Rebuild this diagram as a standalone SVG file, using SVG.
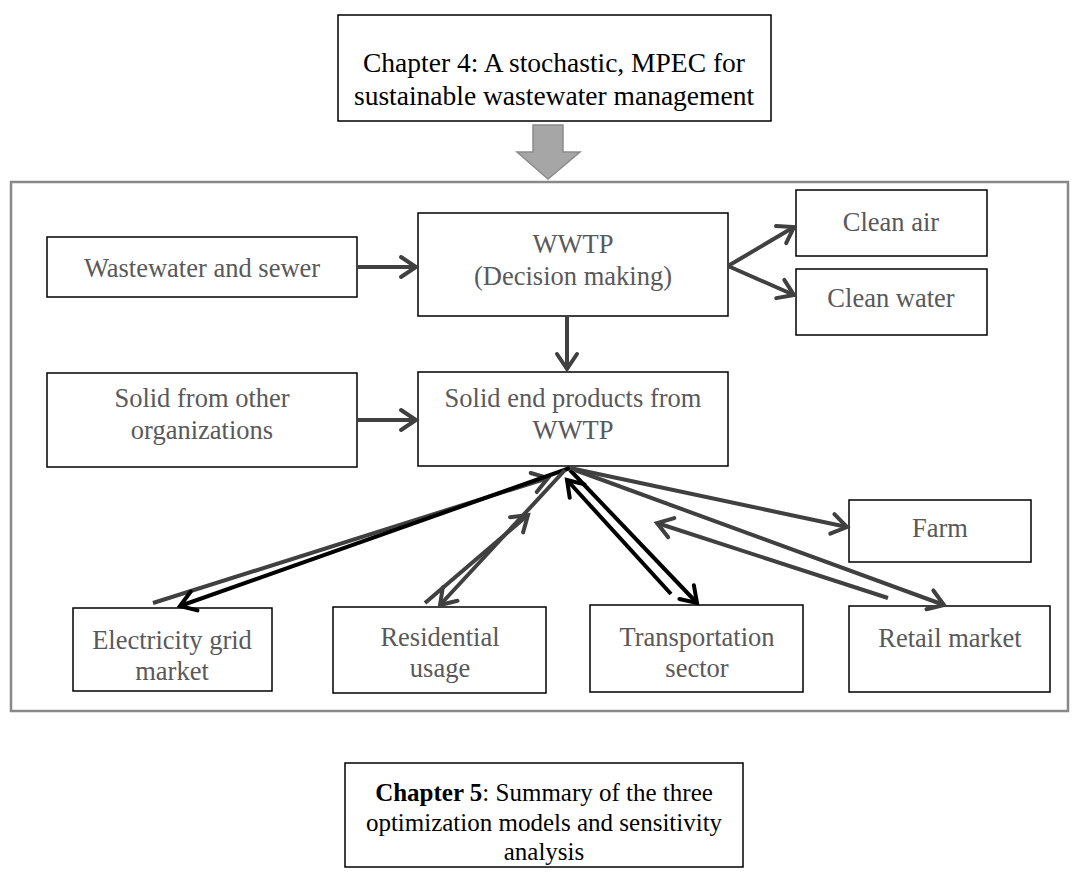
<svg xmlns="http://www.w3.org/2000/svg" width="1080" height="872" viewBox="0 0 1080 872">
  <style>
    .box { fill: #ffffff; stroke: #000000; stroke-width: 1.5; }
    .t { font-family: "Liberation Serif", "Times New Roman", serif; font-size: 26.5px; fill: #595959; text-anchor: middle; }
    .tb { font-family: "Liberation Serif", "Times New Roman", serif; fill: #000000; text-anchor: middle; }
    .g { stroke: #404040; stroke-width: 4; fill: none; marker-end: url(#ag); }
    .k { stroke: #000000; stroke-width: 4; fill: none; marker-end: url(#ak); }
  </style>
  <defs>
    <marker id="ag" markerUnits="userSpaceOnUse" markerWidth="30" markerHeight="30" viewBox="-20 -15 30 30" refX="0" refY="0" orient="auto">
      <path d="M -15 -10 L 0 0 L -15 10" fill="none" stroke="#404040" stroke-width="4" stroke-linecap="round" stroke-linejoin="miter"/>
    </marker>
    <marker id="ak" markerUnits="userSpaceOnUse" markerWidth="30" markerHeight="30" viewBox="-20 -15 30 30" refX="0" refY="0" orient="auto">
      <path d="M -15 -10 L 0 0 L -15 10" fill="none" stroke="#000000" stroke-width="4" stroke-linecap="round" stroke-linejoin="miter"/>
    </marker>
  </defs>
  <rect width="1080" height="872" fill="#ffffff"/>

  <g id="chapter4">
    <rect class="box" x="338" y="15" width="433" height="106" stroke-width="2.5"/>
    <text class="tb" x="554" y="72" font-size="27.5">Chapter 4: A stochastic, MPEC for</text>
    <text class="tb" x="554" y="105" font-size="27.5">sustainable wastewater management</text>
  </g>

  <g id="big-arrow">
    <path d="M 533 125 L 563 125 L 563 152 L 580 152 L 548 179 L 517 152 L 533 152 Z" fill="#a6a6a6" stroke="#8c8c8c" stroke-width="1.5"/>
  </g>

  <g id="container">
    <rect x="11" y="182" width="1057" height="529" fill="none" stroke="#888888" stroke-width="2.5"/>
  </g>

  <g id="wastewater">
    <rect class="box" x="47" y="237" width="310" height="60"/>
    <text class="t" x="202" y="277">Wastewater and sewer</text>
  </g>
  <g id="wwtp">
    <rect class="box" x="418" y="213" width="310" height="103"/>
    <text class="t" x="573" y="253">WWTP</text>
    <text class="t" x="573" y="285">(Decision making)</text>
  </g>
  <g id="clean-air">
    <rect class="box" x="796" y="190" width="191" height="66"/>
    <text class="t" x="891" y="231">Clean air</text>
  </g>
  <g id="clean-water">
    <rect class="box" x="796" y="269" width="191" height="66"/>
    <text class="t" x="891" y="307">Clean water</text>
  </g>
  <g id="solid-other">
    <rect class="box" x="47" y="373" width="310" height="94"/>
    <text class="t" x="202" y="407">Solid from other</text>
    <text class="t" x="202" y="439">organizations</text>
  </g>
  <g id="solid-end">
    <rect class="box" x="418" y="372" width="310" height="94"/>
    <text class="t" x="573" y="407">Solid end products from</text>
    <text class="t" x="573" y="439">WWTP</text>
  </g>
  <g id="farm">
    <rect class="box" x="849" y="500" width="182" height="62"/>
    <text class="t" x="940" y="537">Farm</text>
  </g>
  <g id="electricity">
    <rect class="box" x="73" y="608" width="199" height="83"/>
    <text class="t" x="172" y="649">Electricity grid</text>
    <text class="t" x="172" y="680">market</text>
  </g>
  <g id="residential">
    <rect class="box" x="333" y="607" width="213" height="86"/>
    <text class="t" x="440" y="646">Residential</text>
    <text class="t" x="440" y="677">usage</text>
  </g>
  <g id="transportation">
    <rect class="box" x="590" y="605" width="213" height="87"/>
    <text class="t" x="697" y="646">Transportation</text>
    <text class="t" x="697" y="677">sector</text>
  </g>
  <g id="retail">
    <rect class="box" x="849" y="606" width="201" height="86"/>
    <text class="t" x="950" y="647">Retail market</text>
  </g>

  <g id="chapter5">
    <rect class="box" x="345" y="763" width="398" height="104" stroke-width="2.5"/>
    <text class="tb" x="544" y="801" font-size="25"><tspan font-weight="bold">Chapter 5</tspan>: Summary of the three</text>
    <text class="tb" x="544" y="831" font-size="25">optimization models and  sensitivity</text>
    <text class="tb" x="544" y="860" font-size="25">analysis</text>
  </g>

  <g id="connectors">
    <line class="g" x1="357" y1="267" x2="416" y2="267"/>
    <line class="g" x1="357" y1="420" x2="416" y2="420"/>
    <line class="g" x1="567" y1="316" x2="567" y2="369"/>
    <line class="g" x1="728" y1="266" x2="794" y2="227"/>
    <line class="g" x1="728" y1="266" x2="794" y2="295"/>
    <line class="g" x1="153" y1="603" x2="548" y2="478"/>
    <line class="k" x1="570" y1="468" x2="180" y2="606"/>
    <line class="g" x1="425" y1="603" x2="528" y2="515"/>
    <line class="g" x1="565" y1="470" x2="440" y2="605"/>
    <line class="k" x1="570" y1="470" x2="697" y2="603"/>
    <line class="k" x1="671" y1="594" x2="567" y2="480"/>
    <line class="g" x1="570" y1="468" x2="847" y2="527"/>
    <line class="g" x1="575" y1="470" x2="944" y2="605"/>
    <line class="g" x1="888" y1="598" x2="657" y2="523"/>
  </g>
</svg>
